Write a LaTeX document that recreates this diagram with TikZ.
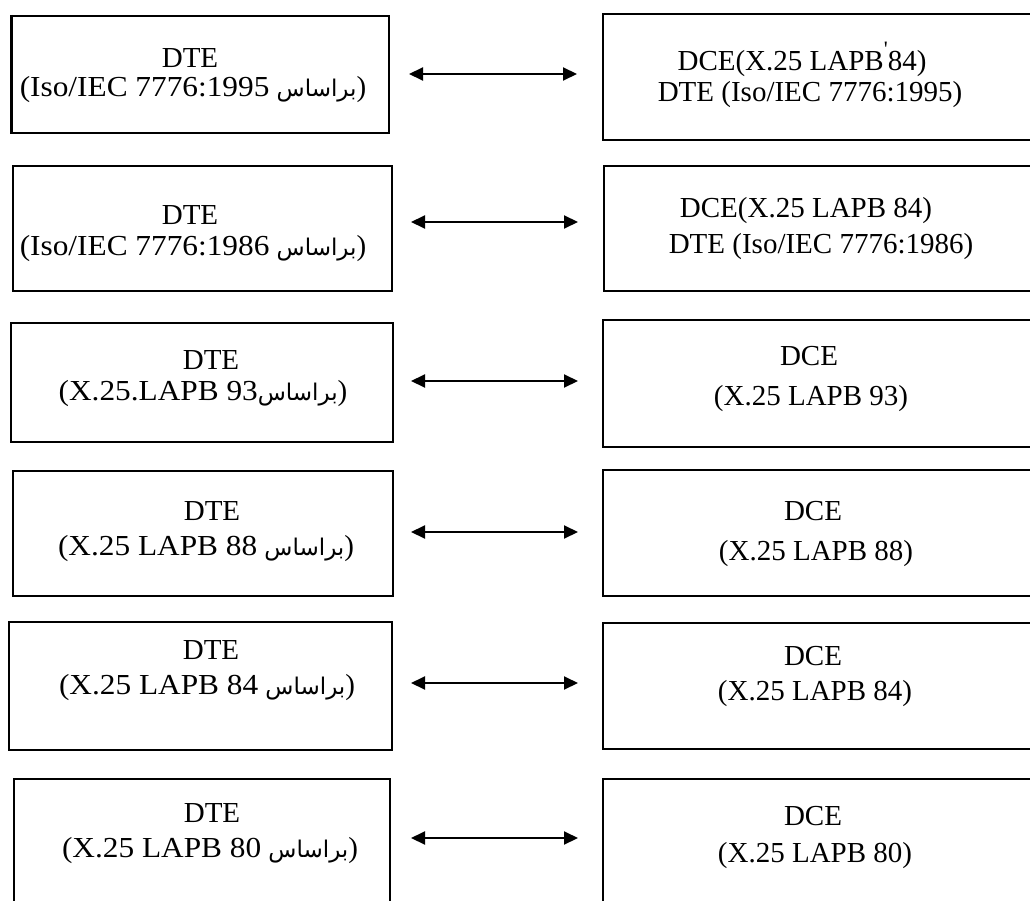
\documentclass[tikz,border=0pt]{standalone}
\usepackage{fontspec}
\setmainfont{Liberation Serif}
\newfontfamily\arab[Script=Arabic]{DejaVu Sans}
\usetikzlibrary{arrows.meta}
\TeXXeTstate=1
\newcommand{\ar}[1]{{\arab\fontsize{23}{28}\selectfont\beginR #1\endR}}
\newcommand{\wide}[2]{\scalebox{#1}[1]{#2}}
\begin{document}
\begin{tikzpicture}[x=1pt,y=-1pt,
  box/.style={draw, line width=1.6pt, inner sep=0pt, anchor=north west},
  txt/.style={anchor=base, inner sep=0pt, font=\fontsize{29}{33}\selectfont},
  link/.style={line width=2pt, {Triangle[length=14pt,width=13pt]}-{Triangle[length=14pt,width=13pt]}}]
\useasboundingbox (0,0) rectangle (1030,901);
\clip (0,0) rectangle (1030,901);
% boxes
\node[box, minimum width=377pt, minimum height=117pt] (L1) at (11,15) {};
\node[box, minimum width=440pt, minimum height=126pt] (R1) at (602,13) {};
\node[box, minimum width=379pt, minimum height=125pt] (L2) at (12,165) {};
\node[box, minimum width=440pt, minimum height=125pt] (R2) at (603,165) {};
\node[box, minimum width=382pt, minimum height=119pt] (L3) at (10,322) {};
\node[box, minimum width=440pt, minimum height=127pt] (R3) at (602,319) {};
\node[box, minimum width=380pt, minimum height=125pt] (L4) at (12,470) {};
\node[box, minimum width=440pt, minimum height=126pt] (R4) at (602,469) {};
\node[box, minimum width=383pt, minimum height=128pt] (L5) at (8,621) {};
\node[box, minimum width=440pt, minimum height=126pt] (R5) at (602,622) {};
\node[box, minimum width=376pt, minimum height=140pt] (L6) at (13,778) {};
\node[box, minimum width=440pt, minimum height=140pt] (R6) at (602,778) {};
\draw[line width=3pt] (L1.north west) -- (L1.south west);
% texts left
\node[txt] (L1a) at (190,68)  {DTE};
\node[txt] (L1b) at (193,97)  {\wide{1.08}{(Iso/IEC 7776:1995} \ar{براساس})};
\node[txt] (L2a) at (190,225) {DTE};
\node[txt] (L2b) at (193,256) {\wide{1.08}{(Iso/IEC 7776:1986} \ar{براساس})};
\node[txt] (L3a) at (211,369) {DTE};
\node[txt] (L3b) at (203,400) {\wide{1.08}{(X.25.LAPB 93}\ar{براساس})};
\node[txt] (L4a) at (212,520) {DTE};
\node[txt] (L4b) at (206,555) {\wide{1.08}{(X.25 LAPB 88} \ar{براساس})};
\node[txt] (L5a) at (211,659) {DTE};
\node[txt] (L5b) at (207,694) {\wide{1.08}{(X.25 LAPB 84} \ar{براساس})};
\node[txt] (L6a) at (212,822) {DTE};
\node[txt] (L6b) at (210,857) {\wide{1.08}{(X.25 LAPB 80} \ar{براساس})};
% texts right
\node[txt] (R1a) at (802,71)  {DCE(X.25 LAPB\raisebox{0.5em}{\fontsize{22}{22}\selectfont\textquotesingle}84)};
\node[txt] (R1b) at (810,102) {DTE (Iso/IEC 7776:1995)};
\node[txt] (R2a) at (806,218) {DCE(X.25 LAPB 84)};
\node[txt] (R2b) at (821,254) {DTE (Iso/IEC 7776:1986)};
\node[txt] (R3a) at (809,365) {DCE};
\node[txt] (R3b) at (811,405) {(X.25 LAPB 93)};
\node[txt] (R4a) at (813,520) {DCE};
\node[txt] (R4b) at (816,560) {(X.25 LAPB 88)};
\node[txt] (R5a) at (813,665) {DCE};
\node[txt] (R5b) at (815,700) {(X.25 LAPB 84)};
\node[txt] (R6a) at (813,825) {DCE};
\node[txt] (R6b) at (815,862) {(X.25 LAPB 80)};
% connectors
\coordinate (p1) at (409,74);  \coordinate (q1) at (577,74);
\coordinate (p2) at (411,222); \coordinate (q2) at (578,222);
\coordinate (p3) at (411,381); \coordinate (q3) at (578,381);
\coordinate (p4) at (411,532); \coordinate (q4) at (578,532);
\coordinate (p5) at (411,683); \coordinate (q5) at (578,683);
\coordinate (p6) at (411,838); \coordinate (q6) at (578,838);
\foreach \i in {1,...,6} {\draw[link] (p\i) -- (q\i);}
\end{tikzpicture}
\end{document}
